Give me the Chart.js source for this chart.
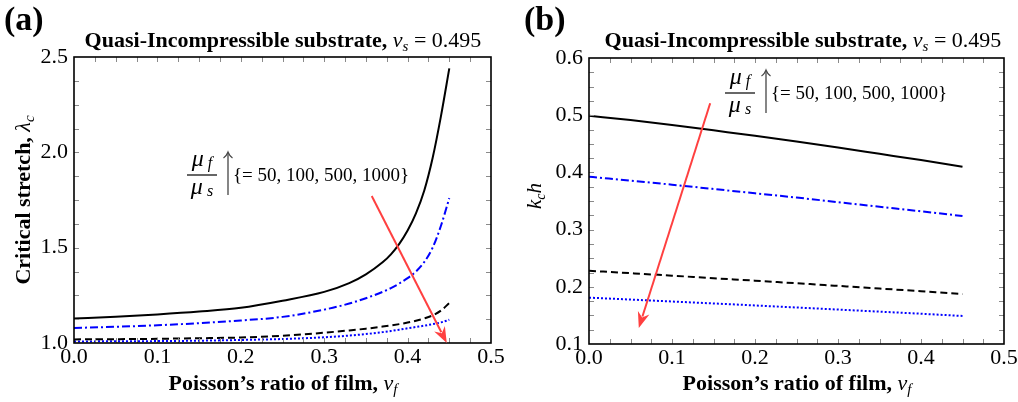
<!DOCTYPE html>
<html>
<head>
<meta charset="utf-8">
<script src="https://cdn.jsdelivr.net/npm/chart.js@4.4.1/dist/chart.umd.min.js"></script>
<style>
  html, body { margin: 0; padding: 0; background: #fff; }
  #wrap { position: relative; width: 1018px; height: 402px; overflow: hidden; }
  canvas { position: absolute; top: 0; }
  #chartA { left: 0; }
  #chartB { left: 509px; }
  svg { position: absolute; left: 0; top: 0; pointer-events: none; font-family: "Liberation Serif", serif; }
</style>
</head>
<body>
<div id="wrap">
  <canvas id="chartA" width="509" height="402"></canvas>
  <canvas id="chartB" width="509" height="402"></canvas>
  <svg width="1018" height="402">
    <!-- panel labels -->
    <text x="4" y="30" font-size="34" font-weight="bold">(a)</text>
    <text x="524" y="30" font-size="34" font-weight="bold">(b)</text>

    <!-- titles -->
    <text x="283" y="47" text-anchor="middle" font-size="22"><tspan font-weight="bold">Quasi-Incompressible substrate,</tspan> <tspan font-style="italic">ν</tspan><tspan font-style="italic" font-size="15" dy="4">s</tspan><tspan dy="-4"> = 0.495</tspan></text>
    <text x="803" y="47" text-anchor="middle" font-size="22"><tspan font-weight="bold">Quasi-Incompressible substrate,</tspan> <tspan font-style="italic">ν</tspan><tspan font-style="italic" font-size="15" dy="4">s</tspan><tspan dy="-4"> = 0.495</tspan></text>

    <!-- x axis titles -->
    <text x="283" y="390" text-anchor="middle" font-size="22"><tspan font-weight="bold">Poisson’s ratio of film,</tspan> <tspan font-style="italic">ν</tspan><tspan font-style="italic" font-size="15" dy="4">f</tspan></text>
    <text x="797" y="390" text-anchor="middle" font-size="22"><tspan font-weight="bold">Poisson’s ratio of film,</tspan> <tspan font-style="italic">ν</tspan><tspan font-style="italic" font-size="15" dy="4">f</tspan></text>

    <!-- y axis titles -->
    <text transform="translate(30,200) rotate(-90)" text-anchor="middle" font-size="22"><tspan font-weight="bold">Critical stretch,</tspan> <tspan font-style="italic">λ</tspan><tspan font-style="italic" font-size="15" dy="4">c</tspan></text>
    <text transform="translate(541,196) rotate(-90)" text-anchor="middle" font-size="21" font-style="italic">k<tspan font-size="14" dy="4">c</tspan><tspan dy="-4">h</tspan></text>

    <!-- annotation (a) -->
    <g transform="translate(187,175)">
      <text x="15" y="-9" text-anchor="middle" font-size="24" font-style="italic">μ<tspan font-size="16" dy="2"> f</tspan></text>
      <line x1="0" y1="0" x2="30" y2="0" stroke="#000" stroke-width="1.2"/>
      <text x="15" y="19" text-anchor="middle" font-size="24" font-style="italic">μ<tspan font-size="16" dy="2"> s</tspan></text>
      <line x1="41" y1="20" x2="41" y2="-22" stroke="#444" stroke-width="1.3"/>
      <path d="M36.5 -17 Q39.5 -19 41 -23 Q42.5 -19 45.5 -17" fill="none" stroke="#444" stroke-width="1.2"/>
      <text x="46" y="6" font-size="19">{= 50, 100, 500, 1000}</text>
    </g>
    <!-- annotation (b) -->
    <g transform="translate(725,93)">
      <text x="15" y="-9" text-anchor="middle" font-size="24" font-style="italic">μ<tspan font-size="16" dy="2"> f</tspan></text>
      <line x1="0" y1="0" x2="30" y2="0" stroke="#000" stroke-width="1.2"/>
      <text x="15" y="19" text-anchor="middle" font-size="24" font-style="italic">μ<tspan font-size="16" dy="2"> s</tspan></text>
      <line x1="41" y1="20" x2="41" y2="-22" stroke="#444" stroke-width="1.3"/>
      <path d="M36.5 -17 Q39.5 -19 41 -23 Q42.5 -19 45.5 -17" fill="none" stroke="#444" stroke-width="1.2"/>
      <text x="46" y="6" font-size="19">{= 50, 100, 500, 1000}</text>
    </g>
  </svg>
</div>
<script>
// panel (a): critical stretch vs Poisson's ratio of film
const nuA = [0, 0.05, 0.1, 0.15, 0.2, 0.25, 0.3, 0.33, 0.35, 0.37, 0.38, 0.39, 0.4, 0.41, 0.42, 0.43, 0.44, 0.45];
const stretch50   = [1.128, 1.138, 1.150, 1.165, 1.185, 1.222, 1.268, 1.314, 1.360, 1.423, 1.465, 1.520, 1.590, 1.680, 1.800, 1.970, 2.190, 2.440];
const stretch100  = [1.079, 1.085, 1.093, 1.104, 1.118, 1.137, 1.175, 1.207, 1.235, 1.268, 1.288, 1.312, 1.340, 1.375, 1.425, 1.500, 1.615, 1.760];
const stretch500  = [1.019, 1.020, 1.022, 1.025, 1.029, 1.038, 1.054, 1.066, 1.075, 1.086, 1.092, 1.099, 1.107, 1.117, 1.129, 1.145, 1.170, 1.210];
const stretch1000 = [1.008, 1.009, 1.010, 1.012, 1.016, 1.021, 1.030, 1.039, 1.047, 1.057, 1.063, 1.070, 1.077, 1.084, 1.091, 1.099, 1.108, 1.122];

// panel (b): k_c h vs Poisson's ratio of film
const nuB = [0, 0.05, 0.1, 0.15, 0.2, 0.25, 0.3, 0.35, 0.4, 0.45];
const kh50   = [0.499, 0.4915, 0.483, 0.4735, 0.464, 0.454, 0.4435, 0.4325, 0.4215, 0.410];
const kh100  = [0.3925, 0.3855, 0.3785, 0.371, 0.3635, 0.356, 0.348, 0.340, 0.332, 0.3238];
const kh500  = [0.228, 0.2238, 0.2195, 0.215, 0.2107, 0.2062, 0.2016, 0.197, 0.1922, 0.1874];
const kh1000 = [0.181, 0.1777, 0.1743, 0.1709, 0.1674, 0.1638, 0.1602, 0.1566, 0.1529, 0.149];

// red "increasing mu_f/mu_s" arrows, [start, tip] in data units
const arrowA = [[0.357, 1.771], [0.447, 1.0]];
const arrowB = [[0.146, 0.521], [0.060, 0.128]];

const lineStyles = [
  { borderColor: '#000000', borderDash: [] },
  { borderColor: '#0000ff', borderDash: [8, 3, 2, 3] },
  { borderColor: '#000000', borderDash: [7, 4] },
  { borderColor: '#0000ff', borderDash: [2, 2] }
];

const tickFont = { family: 'Liberation Serif', size: 22 };

// inward ticks on all four sides, box frame and the red arrow
const frameTicks = {
  id: 'frameTicks',
  afterDatasetsDraw(chart, args, opts) {
    const { ctx, chartArea: a, scales: { x, y } } = chart;
    ctx.save();
    ctx.setLineDash([]);
    ctx.strokeStyle = '#8a8a8a';
    ctx.lineWidth = 1;
    ctx.beginPath();
    const nx = Math.round((x.max - x.min) / opts.xStep);
    for (let i = 1; i < nx; i++) {
      const px = Math.round(x.getPixelForValue(x.min + i * opts.xStep)) + 0.5;
      ctx.moveTo(px, a.bottom); ctx.lineTo(px, a.bottom - 5);
      ctx.moveTo(px, a.top); ctx.lineTo(px, a.top + 5);
    }
    const ny = Math.round((y.max - y.min) / opts.yStep);
    for (let i = 1; i < ny; i++) {
      const py = Math.round(y.getPixelForValue(y.min + i * opts.yStep)) + 0.5;
      ctx.moveTo(a.left, py); ctx.lineTo(a.left + 5, py);
      ctx.moveTo(a.right, py); ctx.lineTo(a.right - 5, py);
    }
    ctx.stroke();

    ctx.strokeStyle = '#000';
    ctx.lineWidth = 1.6;
    ctx.strokeRect(a.left, a.top, a.right - a.left, a.bottom - a.top);

    // arrow
    const [s, t] = opts.arrow;
    const x0 = x.getPixelForValue(s[0]), y0 = y.getPixelForValue(s[1]);
    const x1 = x.getPixelForValue(t[0]), y1 = y.getPixelForValue(t[1]);
    const ang = Math.atan2(y1 - y0, x1 - x0);
    const headLen = 16, headW = 6;
    const bx = x1 - headLen * Math.cos(ang), by = y1 - headLen * Math.sin(ang);
    ctx.strokeStyle = '#ff4040';
    ctx.fillStyle = '#ff4040';
    ctx.lineWidth = 2;
    ctx.beginPath();
    ctx.moveTo(x0, y0);
    ctx.lineTo(bx + 4 * Math.cos(ang), by + 4 * Math.sin(ang));
    ctx.stroke();
    ctx.beginPath();
    ctx.moveTo(x1, y1);
    ctx.lineTo(bx + headW * Math.sin(ang), by - headW * Math.cos(ang));
    ctx.lineTo(x1 - (headLen - 5) * Math.cos(ang), y1 - (headLen - 5) * Math.sin(ang));
    ctx.lineTo(bx - headW * Math.sin(ang), by + headW * Math.cos(ang));
    ctx.closePath();
    ctx.fill();
    ctx.restore();
  }
};

function makeChart(id, nu, seriesList, cfg) {
  const datasets = seriesList.map((vals, i) => ({
    data: nu.map((v, j) => ({ x: v, y: vals[j] })),
    borderColor: lineStyles[i].borderColor,
    borderDash: lineStyles[i].borderDash,
    borderWidth: 2,
    pointRadius: 0,
    fill: false,
    cubicInterpolationMode: 'monotone'
  }));
  return new Chart(document.getElementById(id), {
    type: 'line',
    data: { datasets },
    options: {
      responsive: false,
      animation: false,
      devicePixelRatio: 1,
      layout: { padding: { top: cfg.padTop, right: cfg.padRight, left: 0, bottom: 0 } },
      plugins: {
        legend: { display: false },
        tooltip: { enabled: false },
        frameTicks: { xStep: 0.025, yStep: cfg.yMinor, arrow: cfg.arrow }
      },
      scales: {
        x: {
          type: 'linear', min: 0, max: 0.5,
          ticks: { stepSize: 0.1, callback: v => v.toFixed(1), font: tickFont, color: '#000', padding: 1, maxRotation: 0, autoSkip: false },
          grid: { display: false, drawTicks: false },
          border: { display: false },
          afterFit(s) { s.height = cfg.xHeight; s.paddingLeft = 0; s.paddingRight = 0; }
        },
        y: {
          type: 'linear', min: cfg.yMin, max: cfg.yMax,
          ticks: { stepSize: cfg.yStep, callback: v => v.toFixed(1), font: tickFont, color: '#000', padding: 6, autoSkip: false },
          grid: { display: false, drawTicks: false },
          border: { display: false },
          afterFit(s) { s.width = cfg.yWidth; s.paddingTop = 0; s.paddingBottom = 0; }
        }
      }
    },
    plugins: [frameTicks]
  });
}

makeChart('chartA', nuA, [stretch50, stretch100, stretch500, stretch1000], {
  yMin: 1.0, yMax: 2.5, yStep: 0.5, yMinor: 0.125,
  yWidth: 74, xHeight: 59, padTop: 57, padRight: 18, arrow: arrowA
});
makeChart('chartB', nuB, [kh50, kh100, kh500, kh1000], {
  yMin: 0.1, yMax: 0.6, yStep: 0.1, yMinor: 0.025,
  yWidth: 80, xHeight: 58, padTop: 58, padRight: 14, arrow: arrowB
});
</script>
</body>
</html>
